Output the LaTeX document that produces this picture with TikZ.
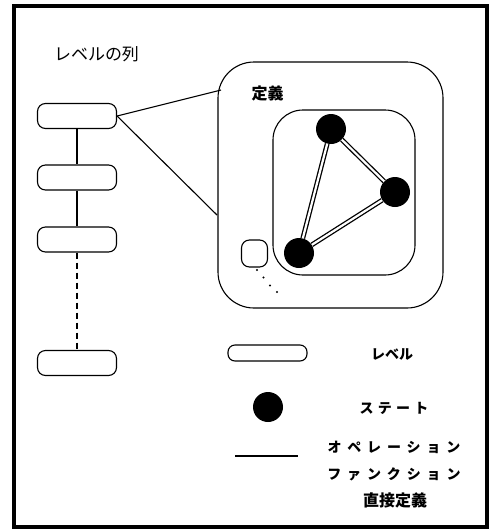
\documentclass[tikz,border=0pt]{standalone}
\usepackage{fontspec}
\newfontfamily\jp{Noto Sans CJK JP}
\begin{document}
\begin{tikzpicture}[x=1pt,y=-1pt,
  lvl/.style={draw,line width=1.1pt,rounded corners=8pt,minimum width=79pt,minimum height=25pt,inner sep=0pt},
  state/.style={circle,fill=black,minimum size=30pt,inner sep=0pt},
  opedge/.style={double=white,line width=1.3pt,double distance=2.2pt},
  lbl/.style={font=\jp\bfseries\fontsize{14}{14}\selectfont,inner sep=0pt},
  klbl/.style={font=\jp\bfseries\fontsize{14}{14}\selectfont\addfontfeature{LetterSpace=30},inner sep=0pt},
  wlbl/.style={font=\jp\bfseries\fontsize{14}{14}\selectfont\addfontfeature{LetterSpace=42},inner sep=0pt}]
\useasboundingbox (0,0) rectangle (491,531);
\draw[line width=4.5pt] (14,6) rectangle (487,527);
% title
\node[font=\jp\fontsize{17}{17}\selectfont,inner sep=0pt] (title) at (96.5,54) {レベルの列};
% level column
\node[lvl] (L1) at (77,116) {};
\node[lvl] (L2) at (77,177.5) {};
\node[lvl] (L3) at (77,239.5) {};
\node[lvl] (L4) at (77,363) {};
\draw[line width=1.1pt] (L1) -- (L2);
\draw[line width=1.1pt] (L2) -- (L3);
\draw[line width=1.1pt,dash pattern=on 6pt off 4pt] (L3.south) -- (L4.north);
% definition box
\node[draw,line width=1.1pt,rounded corners=36pt,minimum width=225pt,minimum height=246pt,inner sep=0pt] (def) at (330.5,185) {};
\node[font=\jp\bfseries\fontsize{16}{16}\selectfont,inner sep=0pt] (deftitle) at (267.5,93) {定義};
\coordinate (t1) at (221,90);
\coordinate (t2) at (217,215);
\draw[line width=1.1pt] (L1.east) -- (t1);
\draw[line width=1.1pt] (L1.east) -- (t2);
\node[draw,line width=1.1pt,rounded corners=30pt,minimum width=142pt,minimum height=165pt,inner sep=0pt] (inner) at (344,192.5) {};
\node[state] (A) at (331,129) {};
\node[state] (B) at (395,192) {};
\node[state] (C) at (299,253) {};
\draw[opedge] (A) -- (B);
\draw[opedge] (B) -- (C);
\draw[opedge] (C) -- (A);
\node[draw,line width=1.1pt,rounded corners=8pt,minimum width=26pt,minimum height=27pt,inner sep=0pt] (small) at (254.5,253.5) {};
\foreach \p in {(257,270),(263.5,277.5),(270,285.5),(277,292)} \fill \p circle (1.2pt);
% legend
\node[draw,line width=1.1pt,rounded corners=7pt,minimum width=79pt,minimum height=16pt,inner sep=0pt] (legL) at (267.5,353) {};
\node[lbl] (tL) at (392,355) {レベル};
\node[state] (legS) at (268,407) {};
\node[klbl] (tS) at (394,408) {ステート};
\coordinate (e1) at (235,456);
\coordinate (e2) at (298,456);
\draw[line width=1.1pt] (e1) -- (e2);
\node[wlbl] (tO) at (394,447) {オペレーション};
\node[wlbl] (tF) at (394,474) {ファンクション};
\node[lbl,font=\jp\bfseries\fontsize{16}{16}\selectfont] (tD) at (395,500) {直接定義};
\end{tikzpicture}
\end{document}
